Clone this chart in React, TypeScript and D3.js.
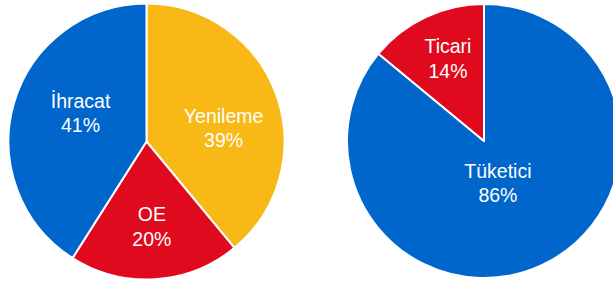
import React, { useEffect, useRef } from 'react'
import * as d3 from 'd3'

// left pie: sales by channel
const channelLabels = ['Yenileme', 'OE', 'İhracat']
const channelValues = [39, 20, 41]
const channelColors = ['#F8B816', '#E00A1F', '#0066CC']

// right pie: customer type
const customerLabels = ['Tüketici', 'Ticari']
const customerValues = [86, 14]
const customerColors = ['#0066CC', '#E00A1F']

// label placement: fraction of radius, angle nudge in degrees
const labelPlace: Record<string, [number, number]> = {
  'Yenileme': [0.567, 10],
  'OE': [0.62, 0],
  'İhracat': [0.52, 7],
  'Tüketici': [0.326, 7],
  'Ticari': [0.657, 1.6],
}

const W = 613
const H = 282

export default function App() {
  const svgRef = useRef<SVGSVGElement>(null)

  useEffect(() => {
    const svg = d3.select(svgRef.current)
    svg.selectAll('*').remove()

    const drawPie = (cx: number, cy: number, r: number, labels: string[], values: number[], colors: string[]) => {
      const g = svg.append('g').attr('transform', `translate(${cx},${cy})`)
      const pie = d3.pie<number>().sort(null).value(d => d)
      const arcs = pie(values)
      const arc = d3.arc<d3.PieArcDatum<number>>().innerRadius(0).outerRadius(r)

      g.selectAll('path')
        .data(arcs)
        .join('path')
        .attr('d', arc)
        .attr('fill', (d, i) => colors[i])
        .attr('stroke', '#fff')
        .attr('stroke-width', 2)
        .attr('stroke-linejoin', 'round')

      const totals = d3.sum(values)
      const lbl = g.selectAll('text')
        .data(arcs)
        .join('text')
        .attr('transform', (d, i) => {
          const [f, nudge] = labelPlace[labels[i]]
          const a = (d.startAngle + d.endAngle) / 2 + nudge * Math.PI / 180
          const x = Math.sin(a) * r * f
          const y = -Math.cos(a) * r * f
          return `translate(${x},${y})`
        })
        .attr('text-anchor', 'middle')
        .attr('fill', '#fff')
        .style('font-family', 'Liberation Sans, Arial, sans-serif')
        .style('font-size', '19.5px')

      lbl.append('tspan')
        .attr('x', 0)
        .attr('y', -5.5)
        .text((d, i) => labels[i])
      lbl.append('tspan')
        .attr('x', 0)
        .attr('y', 19)
        .text((d) => `${Math.round(d.value / totals * 100)}%`)
    }

    drawPie(146.5, 141.5, 138, channelLabels, channelValues, channelColors)
    drawPie(484, 141, 137, customerLabels, customerValues, customerColors)
  }, [])

  return (
    <div style={{ position: 'fixed', left: 0, top: 0, width: W, height: H, background: '#fff', overflow: 'hidden' }}>
      <svg ref={svgRef} width={W} height={H}></svg>
    </div>
  )
}
